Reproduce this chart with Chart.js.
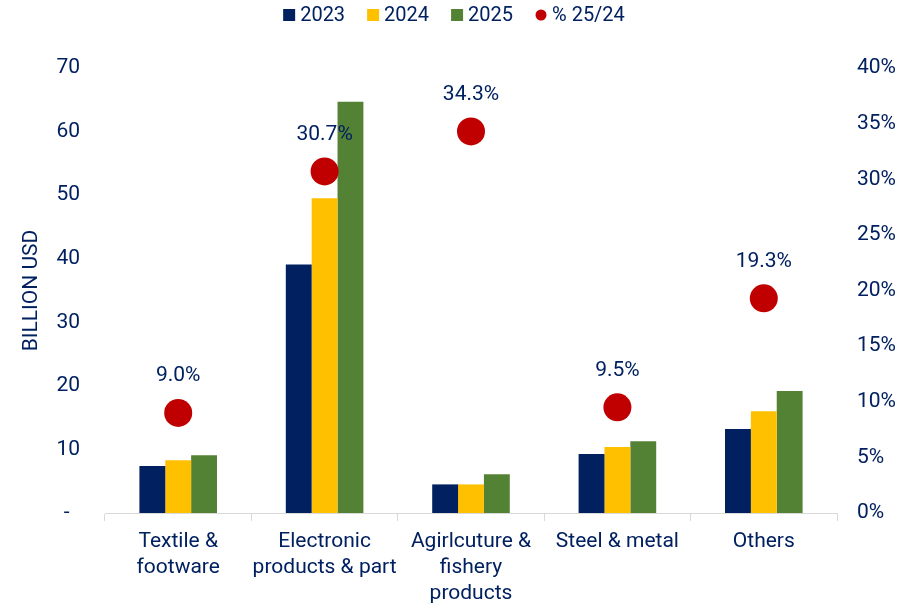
<!DOCTYPE html>
<html>
<head>
<meta charset="utf-8">
<script src="https://cdn.jsdelivr.net/npm/chart.js@4.4.1/dist/chart.umd.min.js"></script>
<style>
  html, body { margin: 0; padding: 0; background: #ffffff; }
  #wrap { width: 918px; height: 604px; }
</style>
</head>
<body>
<div id="wrap"><canvas id="c" width="918" height="604"></canvas></div>
<script>
// Export values by product group, billion USD, and growth 2025 vs 2024
const categories = [
  ['Textile &', 'footware'],
  ['Electronic', 'products & part'],
  ['Agirlcuture &', 'fishery', 'products'],
  'Steel & metal',
  'Others'
];
const values2023 = [7.4, 39.1, 4.5, 9.3, 13.2];
const values2024 = [8.3, 49.5, 4.5, 10.4, 16.0];
const values2025 = [9.1, 64.7, 6.1, 11.3, 19.2];
const growth2524 = [9.0, 30.7, 34.3, 9.5, 19.3];
const seriesNames = ['2023', '2024', '2025', '% 25/24'];

const NAVY = '#002060';
const GOLD = '#FFC000';
const GREEN = '#548235';
const RED = '#C00000';
const FONT = 'Roboto, "Liberation Sans", sans-serif';
const SERIES_COLORS = [NAVY, GOLD, GREEN, RED];

// percent labels above the growth points
const growthLabels = {
  id: 'growthLabels',
  afterDatasetsDraw(chart) {
    const meta = chart.getDatasetMeta(3);
    const ctx = chart.ctx;
    ctx.save();
    ctx.font = '21px ' + FONT;
    ctx.fillStyle = NAVY;
    ctx.textAlign = 'center';
    ctx.textBaseline = 'middle';
    meta.data.forEach((pt, i) => {
      ctx.fillText(growth2524[i].toFixed(1) + '%', pt.x, pt.y - 37);
    });
    ctx.restore();
  }
};

// single-row legend across the top: squares for bars, dot for the growth series
const topLegend = {
  id: 'topLegend',
  afterDraw(chart) {
    const ctx = chart.ctx;
    ctx.save();
    ctx.font = '20px ' + FONT;
    ctx.textBaseline = 'middle';
    ctx.textAlign = 'left';
    const box = 12, gap = 5, spacing = 22, cy = 15;
    const widths = seriesNames.map(n => box + gap + ctx.measureText(n).width);
    const total = widths.reduce((a, b) => a + b, 0) + spacing * (seriesNames.length - 1);
    let x = chart.width / 2 - total / 2 - 5;
    seriesNames.forEach((n, i) => {
      ctx.fillStyle = SERIES_COLORS[i];
      if (i === 3) {
        ctx.beginPath(); ctx.arc(x + 6, cy, 5.5, 0, Math.PI * 2); ctx.fill();
      } else {
        ctx.fillRect(x, cy - 6, box, box);
      }
      ctx.fillStyle = NAVY;
      ctx.fillText(n, x + box + gap, cy + 1);
      x += widths[i] + spacing;
    });
    ctx.restore();
  }
};

new Chart(document.getElementById('c'), {
  data: {
    labels: categories,
    datasets: [
      { type: 'bar', label: seriesNames[0], data: values2023, backgroundColor: NAVY, yAxisID: 'y', order: 1 },
      { type: 'bar', label: seriesNames[1], data: values2024, backgroundColor: GOLD, yAxisID: 'y', order: 1 },
      { type: 'bar', label: seriesNames[2], data: values2025, backgroundColor: GREEN, yAxisID: 'y', order: 1 },
      { type: 'line', label: seriesNames[3], data: growth2524, yAxisID: 'y1', order: 0,
        showLine: false, pointRadius: 14, pointHoverRadius: 14,
        backgroundColor: RED, borderColor: RED, borderWidth: 0 }
    ]
  },
  options: {
    responsive: false,
    animation: false,
    layout: { padding: { top: 68, left: 0, right: 0, bottom: 0 } },
    datasets: { bar: { categoryPercentage: 0.53, barPercentage: 1.0 } },
    plugins: {
      tooltip: { enabled: false },
      legend: { display: false }
    },
    scales: {
      x: {
        offset: true,
        grid: { display: true, drawOnChartArea: false, drawTicks: true, tickLength: 8, color: '#d9d9d9', offset: true },
        border: { display: true, color: '#d9d9d9', width: 1 },
        ticks: { font: { family: FONT, size: 21, lineHeight: 1.24 }, color: NAVY, maxRotation: 0, autoSkip: false, padding: 8 },
        afterFit(scale) { scale.height = 91; }
      },
      y: {
        position: 'left',
        min: 0, max: 70,
        grid: { display: false, drawTicks: false },
        border: { display: false },
        ticks: {
          stepSize: 10,
          font: { family: FONT, size: 21 },
          color: NAVY,
          padding: 25,
          callback: v => v === 0 ? '-  ' : String(v)
        },
        title: { display: true, text: 'BILLION USD', color: NAVY, font: { family: FONT, size: 21 }, padding: { top: 19, bottom: 0 } },
        afterFit(scale) { scale.width = 105; }
      },
      y1: {
        position: 'right',
        min: 0, max: 40,
        grid: { display: false, drawTicks: false },
        border: { display: false },
        ticks: {
          stepSize: 5,
          font: { family: FONT, size: 21 },
          color: NAVY,
          padding: 20,
          callback: v => v + '%'
        },
        afterFit(scale) { scale.width = 81; }
      }
    }
  },
  plugins: [growthLabels, topLegend]
});
</script>
</body>
</html>
